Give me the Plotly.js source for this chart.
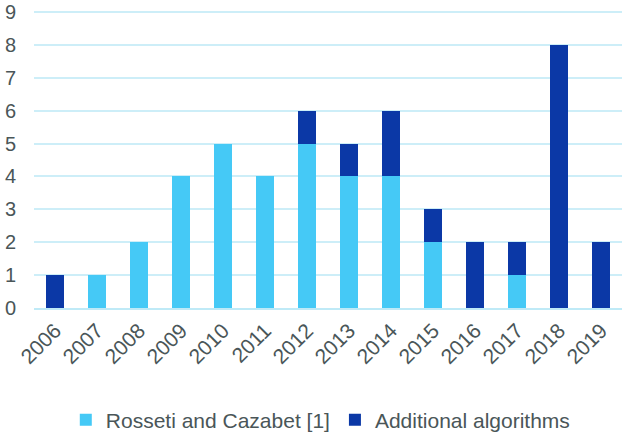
<!DOCTYPE html>
<html><head><meta charset="utf-8">
<script src="https://cdn.plot.ly/plotly-3.0.1.min.js"></script>
<style>body{margin:0;padding:0;background:#fff}#c{width:629px;height:433px}</style>
</head><body><div id="c"></div>
<script>
const years = ['2006','2007','2008','2009','2010','2011','2012','2013','2014','2015','2016','2017','2018','2019'];
const rosseti = [0,1,2,4,5,4,5,4,4,2,0,1,0,0];
const additional = [1,0,0,0,0,0,1,1,2,1,2,1,8,2];
const yTicks = [0,1,2,3,4,5,6,7,8,9];

const traces = [
  {type:'bar', name:'Rosseti and Cazabet [1]', x:years, y:rosseti, marker:{color:'#45C9F6'}},
  {type:'bar', name:'Additional algorithms', x:years, y:additional, marker:{color:'#0B38A6'}}
];
const layout = {
  width:629, height:433, barmode:'stack', bargap:0.59,
  margin:{l:34, r:7, t:8, b:125, autoexpand:false},
  paper_bgcolor:'#fff', plot_bgcolor:'#fff',
  font:{family:'Liberation Sans, Arial, sans-serif', size:21, color:'#4a5658'},
  showlegend:true,
  legend:{orientation:'h', x:0.51, xanchor:'center', xref:'container', y:0.03, yref:'container', yanchor:'middle', font:{size:21}, traceorder:'normal', itemwidth:20, tracegroupgap:0},
  xaxis:{type:'category', tickangle:-45, showgrid:false, ticks:'', showline:true, linecolor:'#bfeaf7', linewidth:2, automargin:false},
  yaxis:{range:[0,9.12], tickvals:yTicks, showgrid:true, gridcolor:'#cdeef8', gridwidth:2, zeroline:false, ticks:'', ticklabelstandoff:17, ticklabeloverflow:'allow', tickfont:{size:20}, automargin:false}
};
Plotly.newPlot('c', traces, layout, {displayModeBar:false, staticPlot:true});
</script></body></html>
